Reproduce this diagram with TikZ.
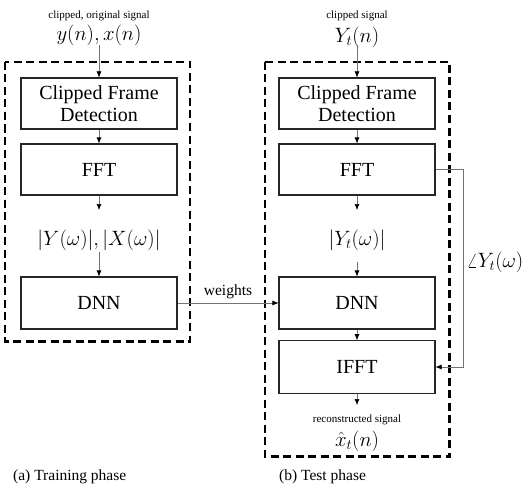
\documentclass[tikz,border=0pt]{standalone}
\usepackage{fontspec}
\setmainfont{Liberation Serif}
\usetikzlibrary{arrows.meta}
\begin{document}
\begin{tikzpicture}[x=1pt,y=-1pt,
  blk/.style={draw=black!85, line width=1.1pt, minimum width=156pt, minimum height=51pt, align=center, inner sep=0pt, font=\fontsize{20}{22}\selectfont},
  frame/.style={draw=black, line width=2.6pt, dash pattern=on 8pt off 4.5pt},
  conn/.style={draw=black!55, line width=0.6pt, -{Latex[length=6pt,width=5pt,color=black]}},
  sm/.style={font=\fontsize{11}{12}\selectfont, inner sep=0pt},
  mth/.style={font=\fontsize{20}{22}\selectfont, inner sep=0pt},
  captxt/.style={font=\fontsize{15.5}{17}\selectfont, inner sep=0pt, anchor=west}
]
\useasboundingbox (0,0) rectangle (528,487);
% frames
\draw[frame] (5,62) rectangle (190,341.5);
\draw[frame] (265,62) rectangle (449.5,456.5);
% left column
\node[sm] (lsig) at (99,16) {clipped, original signal};
\node[mth] (lin) at (99,35) {$y(n),x(n)$};
\node[blk] (lcfd) at (99,103.5) {Clipped Frame\\Detection};
\node[blk] (lfft) at (99,169.5) {FFT};
\node[mth] (lmag) at (99,240) {$|Y(\omega)|,|X(\omega)|$};
\node[blk, minimum height=52pt] (ldnn) at (99,303) {DNN};
\coordinate (lin0) at (99,45);
\coordinate (la1) at (99,210);
\coordinate (lb1) at (99,252);
\draw[conn] (lin0) -- (lcfd.north);
\draw[conn] (lcfd.south) -- (lfft.north);
\draw[conn] (lfft.south) -- (la1);
\draw[conn] (lb1) -- (ldnn.north);
% right column
\node[sm] (rsig) at (357,16) {clipped signal};
\node[mth] (rin) at (357,37) {$Y_t(n)$};
\node[blk] (rcfd) at (357,103.5) {Clipped Frame\\Detection};
\node[blk] (rfft) at (357,169.5) {FFT};
\node[mth] (rmag) at (357,240) {$|Y_t(\omega)|$};
\node[blk, minimum height=52pt] (rdnn) at (357,303) {DNN};
\node[blk, minimum height=52.5pt] (rifft) at (357,367) {IFFT};
\node[sm] (rrec) at (357,419.5) {reconstructed signal};
\node[mth] (rout) at (357,441) {$\hat{x}_t(n)$};
\coordinate (rin0) at (357,45);
\coordinate (ra1) at (357,210);
\coordinate (rb1) at (357,262);
\coordinate (rc1) at (357,405);
\draw[conn] (rin0) -- (rcfd.north);
\draw[conn] (rcfd.south) -- (rfft.north);
\draw[conn] (rfft.south) -- (ra1);
\draw[conn] (rb1) -- (rdnn.north);
\draw[conn] (rdnn.south) -- (rifft.north);
\draw[conn] (rifft.south) -- (rc1);
% weights
\draw[conn] (ldnn.east) -- node[above=4pt, font=\fontsize{15.5}{17}\selectfont, inner sep=0pt] (wlab) {weights} (rdnn.west);
% phase
\draw[conn] (rfft.east) -- ++(27.5,0) |- (rifft.east);
\node[mth] (phase) at (495,262) {$\angle Y_t(\omega)$};
% captions
\node[captxt] (capa) at (13,477) {(a) Training phase};
\node[captxt] (capb) at (279,477) {(b) Test phase};
\end{tikzpicture}
\end{document}
